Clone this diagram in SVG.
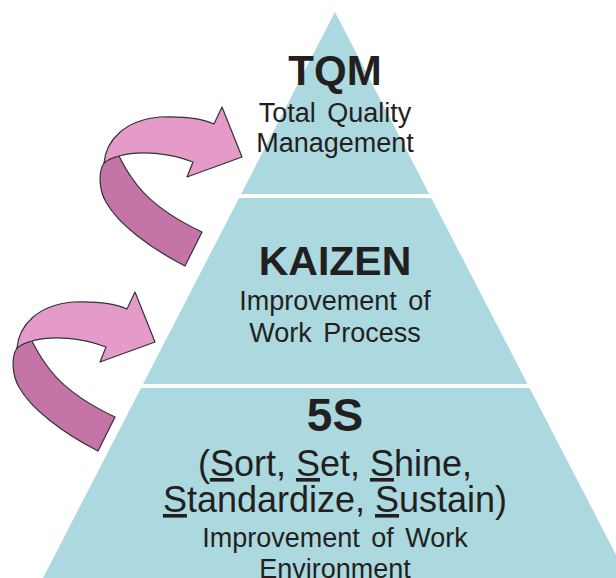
<svg xmlns="http://www.w3.org/2000/svg" width="616" height="578" viewBox="0 0 616 578">
<style>
text{font-family:"Liberation Sans",Arial,sans-serif;fill:#231f20;text-anchor:middle}
.t{font-weight:bold}
.s{font-size:27px;word-spacing:4px}
.m{font-size:36px}
.light{fill:#e49bc9;stroke:#333;stroke-width:1.2;stroke-linejoin:round}
.dark{fill:#c574a8;stroke:#333;stroke-width:1.2;stroke-linejoin:round}
</style>
<defs>
<g id="curl">
<path class="dark" d="M104,163 C98,172 99,190 106,202 C118,224 150,248 185,266 L202,232 C170,217 145,198 132,178 C126,170 122,162 119,156 Q110,158 104,163 Z"/>
<path class="light" d="M104,163 C106,140 125,120 160,117 C185,116 203,119 214,124 L222,107 L242,157 L187,177 L193,162 C170,153 140,150 119,156 Q110,158 104,163 Z"/>
</g>
</defs>
<rect width="616" height="578" fill="#fff"/>
<g id="pyramid">
<polygon points="335,12 43,578 628,578" fill="#abd9df"/>
<rect x="0" y="194" width="616" height="4" fill="#fff"/>
<rect x="0" y="384" width="616" height="4" fill="#fff"/>
</g>
<g id="tqm">
<text class="t" x="335" y="85" font-size="42">TQM</text>
<text class="s" x="335" y="122">Total Quality</text>
<text class="s" x="335" y="152">Management</text>
</g>
<g id="kaizen">
<text class="t" x="335" y="275" font-size="41">KAIZEN</text>
<text class="s" x="335" y="310">Improvement of</text>
<text class="s" x="335" y="342">Work Process</text>
</g>
<g id="fives">
<text class="t" x="335" y="431" font-size="46">5S</text>
<text class="m" x="335" y="476">(<tspan text-decoration="underline">S</tspan>ort, <tspan text-decoration="underline">S</tspan>et, <tspan text-decoration="underline">S</tspan>hine,</text>
<text class="m" x="335" y="512"><tspan text-decoration="underline">S</tspan>tandardize, <tspan text-decoration="underline">S</tspan>ustain)</text>
<text class="s" x="335" y="547">Improvement of Work</text>
<text class="s" x="335" y="578">Environment</text>
</g>
<g id="connectors">
<use href="#curl"/>
<use href="#curl" transform="translate(-87,185)"/>
</g>
</svg>
